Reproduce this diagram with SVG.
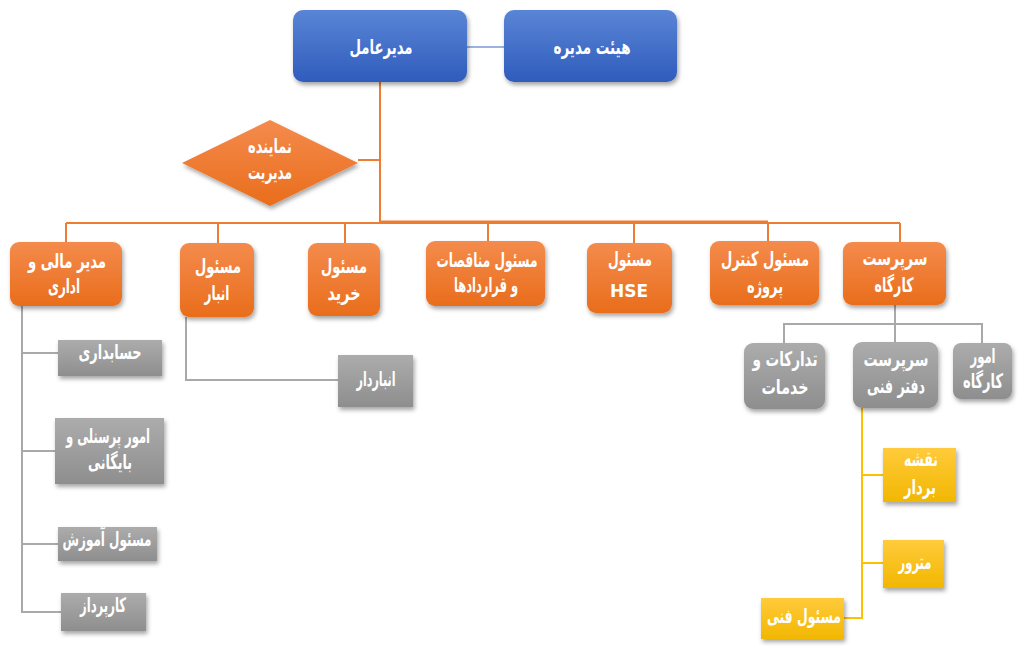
<svg xmlns="http://www.w3.org/2000/svg" width="1024" height="650" viewBox="0 0 1024 650">
<defs>
<linearGradient id="gBlue" x1="0" y1="0" x2="0" y2="1"><stop offset="0" stop-color="#5a85d6"/><stop offset="1" stop-color="#2f5cbc"/></linearGradient>
<linearGradient id="gOrange" x1="0" y1="0" x2="0" y2="1"><stop offset="0" stop-color="#f48b4c"/><stop offset="1" stop-color="#e96d1c"/></linearGradient>
<linearGradient id="gGrey" x1="0" y1="0" x2="0" y2="1"><stop offset="0" stop-color="#acacac"/><stop offset="1" stop-color="#8e8e8e"/></linearGradient>
<linearGradient id="gYellow" x1="0" y1="0" x2="0" y2="1"><stop offset="0" stop-color="#ffcb3c"/><stop offset="1" stop-color="#f2b700"/></linearGradient>
<filter id="sh" x="-20%" y="-20%" width="150%" height="160%"><feDropShadow dx="1.5" dy="3" stdDeviation="2" flood-color="#000" flood-opacity="0.35"/></filter>
</defs>
<style>
.blue{fill:url(#gBlue);filter:url(#sh)}
.orange{fill:url(#gOrange);filter:url(#sh)}
.grey{fill:url(#gGrey);filter:url(#sh)}
.yellow{fill:url(#gYellow);filter:url(#sh)}
text{font-family:"DejaVu Sans","Noto Sans",sans-serif;font-weight:bold;fill:#fff;text-anchor:middle;font-size:20px}
.lat{font-size:17px}
.co{stroke:#ed7d31;stroke-width:2;fill:none}
.cg{stroke:#a9a9a9;stroke-width:2;fill:none}
.cy{stroke:#ffc000;stroke-width:2;fill:none}
.cb{stroke:#7a98d8;stroke-width:1.5;fill:none}
</style>
<rect width="1024" height="650" fill="#fff"/>
<g id="connectors">
<line class="cb" x1="467" y1="47" x2="504" y2="47"/>
<line class="co" x1="380" y1="82" x2="380" y2="222"/>
<line class="co" x1="358" y1="160" x2="380" y2="160"/>
<line class="co" x1="66" y1="223" x2="900" y2="223"/>
<line class="co" stroke-width="3" x1="381" y1="221.5" x2="768" y2="221.5"/>
<line class="co" x1="66" y1="223" x2="66" y2="243"/>
<line class="co" x1="218" y1="223" x2="218" y2="243"/>
<line class="co" x1="345" y1="223" x2="345" y2="243"/>
<line class="co" x1="488" y1="223" x2="488" y2="241"/>
<line class="co" x1="634" y1="223" x2="634" y2="243"/>
<line class="co" x1="768" y1="223" x2="768" y2="241"/>
<line class="co" x1="900" y1="223" x2="900" y2="242"/>
<polyline class="cg" points="22,306 22,612 61,612"/>
<line class="cg" x1="22" y1="353" x2="58" y2="353"/>
<line class="cg" x1="22" y1="451" x2="55" y2="451"/>
<line class="cg" x1="22" y1="544" x2="58" y2="544"/>
<polyline class="cg" points="186,317 186,380 338,380"/>
<line class="cg" x1="895" y1="305" x2="895" y2="324"/>
<polyline class="cg" points="784,343 784,324 982,324 982,343"/>
<line class="cg" x1="895" y1="324" x2="895" y2="342"/>
<polyline class="cy" points="862,408 862,618 844,618"/>
<line class="cy" x1="862" y1="475" x2="883" y2="475"/>
<line class="cy" x1="862" y1="563" x2="883" y2="563"/>
</g>
<g id="n-ceo"><rect class="blue" x="293" y="10" width="174" height="72" rx="10"/><text x="381" y="54" textLength="63" lengthAdjust="spacingAndGlyphs">مدیرعامل</text></g>
<g id="n-board"><rect class="blue" x="504" y="10" width="173" height="72" rx="10"/><text x="592" y="54" textLength="77" lengthAdjust="spacingAndGlyphs">هیئت مدیره</text></g>
<g id="n-rep"><polygon class="orange" points="270,120 358,163 270,206 182,163"/><text x="270" y="153" textLength="44" lengthAdjust="spacingAndGlyphs">نماینده</text><text x="270" y="179" textLength="44" lengthAdjust="spacingAndGlyphs">مدیریت</text></g>
<g id="n-fin"><rect class="orange" x="10" y="242" width="112" height="64" rx="9"/><text x="67" y="268" textLength="78" lengthAdjust="spacingAndGlyphs">مدیر مالی و</text><text x="64" y="293" textLength="32" lengthAdjust="spacingAndGlyphs">اداری</text></g>
<g id="n-store"><rect class="orange" x="180" y="243" width="74" height="74" rx="9"/><text x="218" y="273" textLength="46" lengthAdjust="spacingAndGlyphs">مسئول</text><text x="217" y="300" textLength="25" lengthAdjust="spacingAndGlyphs">انبار</text></g>
<g id="n-buy"><rect class="orange" x="308" y="243" width="72" height="73" rx="9"/><text x="344" y="273" textLength="46" lengthAdjust="spacingAndGlyphs">مسئول</text><text x="344" y="300" textLength="33" lengthAdjust="spacingAndGlyphs">خرید</text></g>
<g id="n-tender"><rect class="orange" x="426" y="241" width="119" height="65" rx="9"/><text x="487" y="267" textLength="101" lengthAdjust="spacingAndGlyphs">مسئول مناقصات</text><text x="486" y="292" textLength="64" lengthAdjust="spacingAndGlyphs">و قراردادها</text></g>
<g id="n-hse"><rect class="orange" x="587" y="243" width="85" height="70" rx="9"/><text x="630" y="266" textLength="44" lengthAdjust="spacingAndGlyphs">مسئول</text><text class="lat" x="629" y="297">HSE</text></g>
<g id="n-control"><rect class="orange" x="710" y="241" width="109" height="64" rx="9"/><text x="765" y="266" textLength="88" lengthAdjust="spacingAndGlyphs">مسئول کنترل</text><text x="765" y="293" textLength="36" lengthAdjust="spacingAndGlyphs">پروژه</text></g>
<g id="n-site"><rect class="orange" x="843" y="242" width="103" height="63" rx="9"/><text x="895" y="265" textLength="65" lengthAdjust="spacingAndGlyphs">سرپرست</text><text x="894" y="292" textLength="39" lengthAdjust="spacingAndGlyphs">کارگاه</text></g>
<g id="n-acc"><rect class="grey" x="58" y="340" width="104" height="36"/><text x="110" y="359" textLength="63" lengthAdjust="spacingAndGlyphs">حسابداری</text></g>
<g id="n-hr"><rect class="grey" x="55" y="418" width="109" height="66"/><text x="108" y="443" textLength="84" lengthAdjust="spacingAndGlyphs">امور پرسنلی و</text><text x="110" y="469" textLength="44" lengthAdjust="spacingAndGlyphs">بایگانی</text></g>
<g id="n-train"><rect class="grey" x="58" y="527" width="99" height="34"/><text x="107" y="546" textLength="89" lengthAdjust="spacingAndGlyphs">مسئول آموزش</text></g>
<g id="n-buyer"><rect class="grey" x="61" y="593" width="85" height="38"/><text x="103" y="612" textLength="46" lengthAdjust="spacingAndGlyphs">کارپرداز</text></g>
<g id="n-keeper"><rect class="grey" x="338" y="355" width="75" height="52"/><text x="376" y="386" textLength="39" lengthAdjust="spacingAndGlyphs">انباردار</text></g>
<g id="n-supply"><rect class="grey" x="744" y="343" width="81" height="66" rx="9"/><text x="785" y="366" textLength="65" lengthAdjust="spacingAndGlyphs">تدارکات و</text><text x="785" y="394" textLength="47" lengthAdjust="spacingAndGlyphs">خدمات</text></g>
<g id="n-tech"><rect class="grey" x="853" y="342" width="85" height="66" rx="9"/><text x="896" y="366" textLength="65" lengthAdjust="spacingAndGlyphs">سرپرست</text><text x="896" y="393" textLength="58" lengthAdjust="spacingAndGlyphs">دفتر فنی</text></g>
<g id="n-siteaff"><rect class="grey" x="953" y="343" width="59" height="56" rx="8"/><text x="983" y="363" textLength="25" lengthAdjust="spacingAndGlyphs">امور</text><text x="983" y="388" textLength="40" lengthAdjust="spacingAndGlyphs">کارگاه</text></g>
<g id="n-survey"><rect class="yellow" x="883" y="448" width="73" height="54"/><text x="921" y="466" textLength="34" lengthAdjust="spacingAndGlyphs">نقشه</text><text x="920" y="494" textLength="32" lengthAdjust="spacingAndGlyphs">بردار</text></g>
<g id="n-metre"><rect class="yellow" x="883" y="540" width="61" height="48"/><text x="915" y="569" textLength="33" lengthAdjust="spacingAndGlyphs">مترور</text></g>
<g id="n-techres"><rect class="yellow" x="761" y="598" width="83" height="41"/><text x="804" y="623" textLength="74" lengthAdjust="spacingAndGlyphs">مسئول فنی</text></g>
</svg>
